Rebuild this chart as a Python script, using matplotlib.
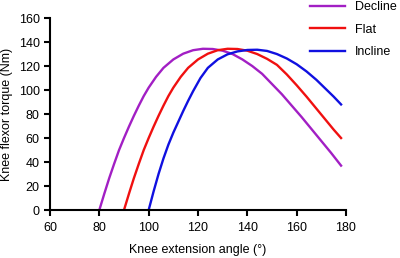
import matplotlib
matplotlib.use("Agg")
import matplotlib.pyplot as plt

plt.rcParams['font.family'] = ['Liberation Sans', 'DejaVu Sans']

decline_angle = [80, 82, 84, 86, 88, 90, 92, 94, 96, 98, 100, 103, 106, 110, 114, 118, 122, 126, 130, 134, 138, 142, 146, 150, 154, 158, 162, 166, 170, 174, 178]
decline_torque = [0, 13.5, 26.5, 38.5, 50, 60, 69.5, 78.5, 87, 95, 102, 111, 118.5, 125.5, 130.3, 133.2, 134.4, 134.2, 132.8, 130, 125.5, 120, 113.5, 105, 96.5, 87, 77.5, 67.5, 57.5, 47.5, 37]

flat_angle = [90, 92, 94, 96, 98, 100, 102, 104, 106, 108, 110, 113, 116, 120, 124, 128, 132, 136, 140, 144, 148, 152, 156, 160, 164, 168, 172, 175, 178]
flat_torque = [0, 13.5, 26.5, 38.5, 50, 60, 69.5, 78.5, 87, 95, 102, 111, 118.5, 125.5, 130.3, 133.2, 134.4, 134.2, 132.8, 130, 126, 121, 113, 104, 94.5, 84.5, 74.5, 67, 60]

incline_angle = [100, 102, 104, 106, 108, 110, 112, 114, 116, 118, 121, 124, 128, 132, 136, 140, 144, 148, 152, 156, 160, 164, 168, 172, 175, 178]
incline_torque = [0, 15.5, 30, 43, 54.5, 64.5, 73.5, 82.5, 91, 99, 110, 118.5, 125.5, 129.8, 132.2, 133.4, 133.6, 132.6, 130, 126.3, 121.5, 115.5, 108.5, 100.5, 94.5, 88]

x_ticks = [60, 80, 100, 120, 140, 160, 180]
y_ticks = [0, 20, 40, 60, 80, 100, 120, 140, 160]

fig = plt.figure(figsize=(4, 2.58), dpi=100)
ax = fig.add_axes([0.125, 0.186, 0.74, 0.744])

ax.plot(decline_angle, decline_torque, color='#A21FC4', lw=1.7, label='Decline')
ax.plot(flat_angle, flat_torque, color='#F01010', lw=1.7, label='Flat')
ax.plot(incline_angle, incline_torque, color='#1010E0', lw=1.7, label='Incline')

ax.set_xlim(60, 180)
ax.set_ylim(0, 160)
ax.set_xticks(x_ticks)
ax.set_yticks(y_ticks)
for s in ['top', 'right']:
    ax.spines[s].set_visible(False)
for s in ['left', 'bottom']:
    ax.spines[s].set_linewidth(1.5)
ax.tick_params(direction='out', length=4.5, width=1.5, labelsize=9, pad=3)
ax.tick_params(axis='x', pad=4)
ax.set_xlabel('Knee extension angle (°)', fontsize=9, labelpad=7)
ax.set_ylabel('Knee flexor torque (Nm)', fontsize=9, labelpad=4)

ax.legend(loc='upper left', bbox_to_anchor=(310 / 400, 1 - 1.5 / 258), bbox_transform=fig.transFigure,
          frameon=False, fontsize=9, handlelength=2.8, handletextpad=0.8,
          labelspacing=0.82, borderpad=0, borderaxespad=0)

fig.savefig('out.png', dpi=100)
